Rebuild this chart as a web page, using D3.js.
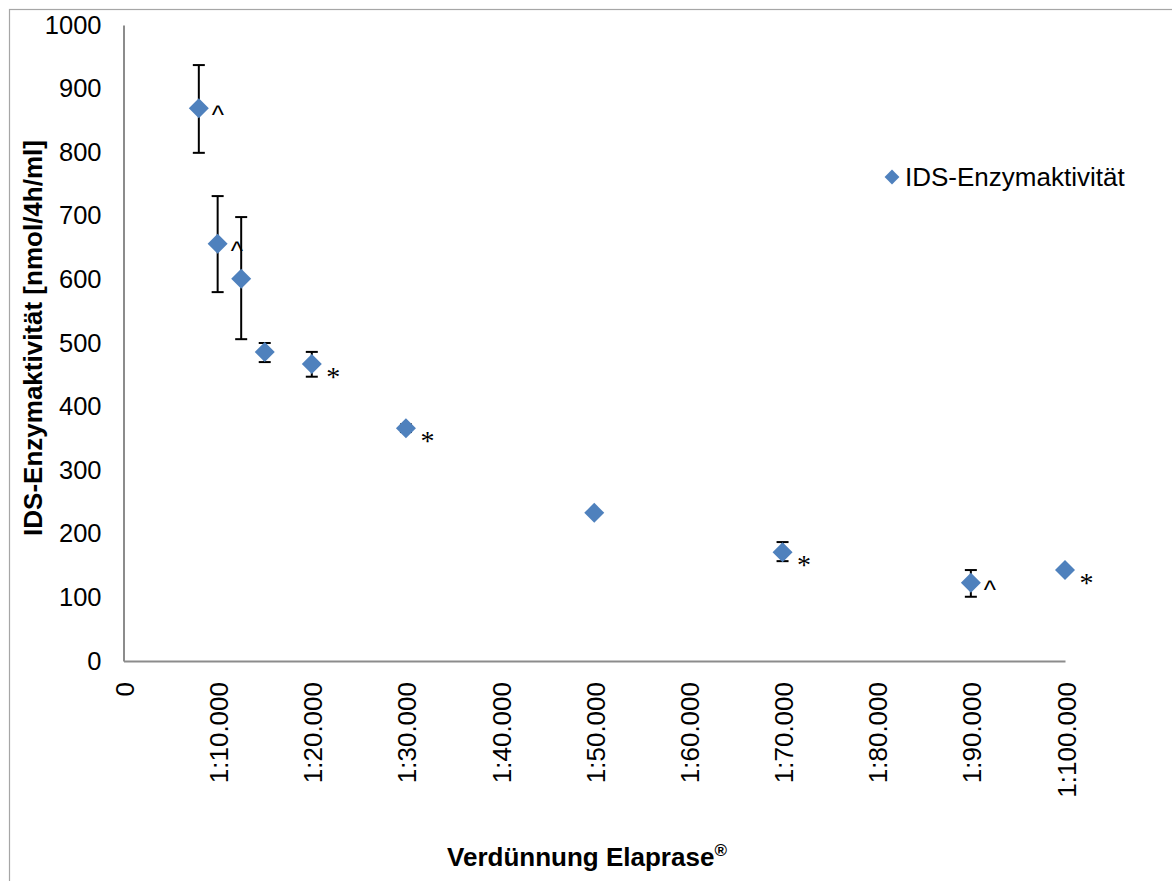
<!DOCTYPE html>
<html>
<head>
<meta charset="utf-8">
<script src="https://cdn.jsdelivr.net/npm/d3@7"></script>
<style>
  html, body { margin: 0; padding: 0; background: #fff; }
  svg { display: block; font-family: "Liberation Sans", Arial, sans-serif; }
</style>
</head>
<body>
<svg id="chart" width="1172" height="881"></svg>
<script>
// Dilution (1:x) and measured IDS enzyme activity
const dilutions = [8000, 10000, 12500, 15000, 20000, 30000, 50000, 70000, 90000, 100000];
const activity  = [869, 656, 601, 486, 467, 366, 233, 171, 123, 143];
const errUpper  = [937, 731, 698, 500, 486, 372, 233, 187, 143, 143];
const errLower  = [799, 580, 506, 470, 447, 360, 233, 157, 101, 143];
const marks     = ["^", "^", "", "", "*", "*", "", "*", "^", "*"];

const xTicks = [0, 10000, 20000, 30000, 40000, 50000, 60000, 70000, 80000, 90000, 100000];
const xTickLabels = ["0", "1:10.000", "1:20.000", "1:30.000", "1:40.000", "1:50.000",
                     "1:60.000", "1:70.000", "1:80.000", "1:90.000", "1:100.000"];
const yTicks = [0, 100, 200, 300, 400, 500, 600, 700, 800, 900, 1000];

const seriesName = "IDS-Enzymaktivität";
const blue = "#4F81BD";
const axisGrey = "#8c8c8c";
const sans = "Liberation Sans, Arial, sans-serif";

const svg = d3.select("#chart");

// outer chart frame
svg.append("rect")
  .attr("x", 9.5).attr("y", 9.5)
  .attr("width", 1180).attr("height", 900)
  .attr("fill", "none").attr("stroke", "#a6a6a6").attr("stroke-width", 1.2);

const x = d3.scaleLinear().domain([0, 100000]).range([123.5, 1065]);
const y = d3.scaleLinear().domain([0, 1000]).range([661, 25]);

// y axis
const yAxis = svg.append("g")
  .attr("transform", `translate(${x(0)},0)`)
  .call(d3.axisLeft(y).tickValues(yTicks).tickSize(0).tickPadding(22).tickFormat(d3.format("d")));
yAxis.select(".domain").attr("stroke", axisGrey).attr("stroke-width", 2);
yAxis.selectAll("text")
  .attr("font-size", 25.5).attr("fill", "#000").attr("font-family", sans);

// x axis with vertical labels
const xAxis = svg.append("g")
  .attr("transform", `translate(0,${y(0)})`)
  .call(d3.axisBottom(x).tickValues(xTicks).tickSize(0)
    .tickFormat((d, i) => xTickLabels[i]));
xAxis.select(".domain").attr("stroke", axisGrey).attr("stroke-width", 2);
xAxis.selectAll("text")
  .attr("font-size", 26).attr("fill", "#000").attr("font-family", sans)
  .attr("text-anchor", "end")
  .attr("dy", 0).attr("x", 0).attr("y", 0)
  .attr("transform", "translate(10,21) rotate(-90)");

// error bars
const eb = svg.append("g").attr("stroke", "#000").attr("stroke-width", 2);
dilutions.forEach((d, i) => {
  if (errUpper[i] === errLower[i]) return;
  const cx = x(d);
  eb.append("line").attr("x1", cx).attr("x2", cx).attr("y1", y(errUpper[i])).attr("y2", y(errLower[i]));
  eb.append("line").attr("x1", cx - 6).attr("x2", cx + 6).attr("y1", y(errUpper[i])).attr("y2", y(errUpper[i]));
  eb.append("line").attr("x1", cx - 6).attr("x2", cx + 6).attr("y1", y(errLower[i])).attr("y2", y(errLower[i]));
});

// diamond markers
const diamond = d3.symbol().type(d3.symbolSquare).size(200);
svg.append("g").selectAll("path")
  .data(dilutions)
  .join("path")
  .attr("d", diamond)
  .attr("fill", blue)
  .attr("transform", (d, i) => `translate(${x(d)},${y(activity[i])}) rotate(45)`);

// significance marks beside the points
const markG = svg.append("g").attr("fill", "#000");
dilutions.forEach((d, i) => {
  if (!marks[i]) return;
  const cx = x(d), cy = y(activity[i]);
  if (marks[i] === "^") {
    markG.append("text").attr("x", cx + 13).attr("y", cy + 16)
      .attr("font-size", 26).attr("font-family", sans).text("^");
  } else {
    markG.append("text").attr("x", cx + 21.5).attr("y", cy + 22)
      .attr("text-anchor", "middle")
      .attr("font-size", 28).attr("font-family", "Liberation Serif, serif").text("*");
  }
});

// legend
const lg = svg.append("g").attr("transform", "translate(892,177)");
lg.append("path").attr("d", d3.symbol().type(d3.symbolSquare).size(110))
  .attr("fill", blue).attr("transform", "rotate(45)");
lg.append("text").attr("x", 13).attr("y", 9).attr("font-size", 26)
  .attr("font-family", sans).attr("fill", "#000").text(seriesName);

// axis titles
svg.append("text")
  .attr("transform", "translate(42,338) rotate(-90)")
  .attr("text-anchor", "middle")
  .attr("font-size", 26).attr("font-weight", "bold").attr("font-family", sans).attr("fill", "#000")
  .text("IDS-Enzymaktivität [nmol/4h/ml]");

const xt = svg.append("text")
  .attr("x", 587).attr("y", 866)
  .attr("text-anchor", "middle")
  .attr("font-size", 26).attr("font-weight", "bold").attr("font-family", sans).attr("fill", "#000");
xt.append("tspan").text("Verdünnung Elaprase");
xt.append("tspan").attr("font-size", 17).attr("dy", -10).text("®");
</script>
</body>
</html>
